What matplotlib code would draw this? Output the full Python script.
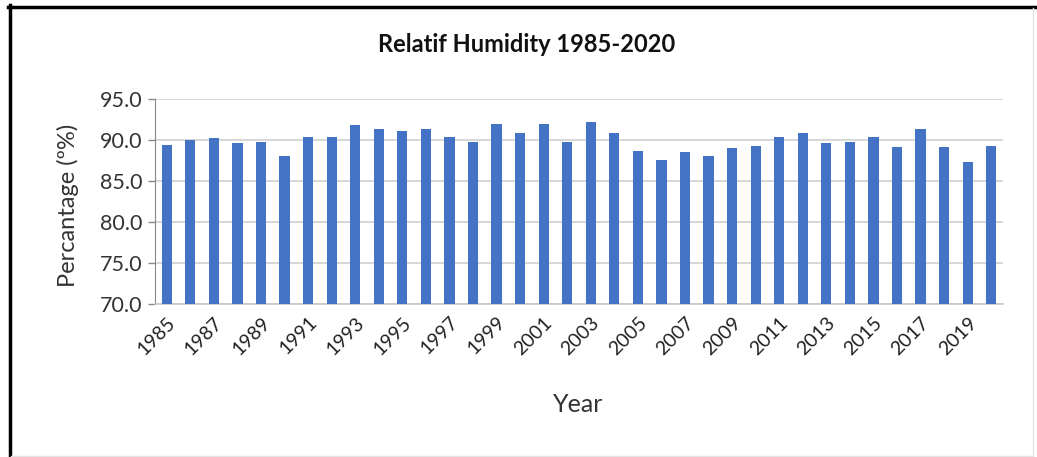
import matplotlib.pyplot as plt
from matplotlib.lines import Line2D
import numpy as np

plt.rcParams['font.family'] = ['Lato', 'DejaVu Sans']

years = list(range(1985, 2021))
humidity = [89.4, 90.0, 90.2, 89.6, 89.7, 88.1, 90.4, 90.4, 91.8, 91.3,
            91.1, 91.3, 90.4, 89.7, 92.0, 90.8, 92.0, 89.7, 92.2, 90.9,
            88.6, 87.6, 88.5, 88.0, 89.0, 89.3, 90.4, 90.8, 89.6, 89.7,
            90.4, 89.2, 91.3, 89.2, 87.3, 89.3]
yticks = [70.0, 75.0, 80.0, 85.0, 90.0, 95.0]

W, H = 1037, 457
fig = plt.figure(figsize=(W / 100, H / 100), dpi=100)
ax = fig.add_axes([155 / W, 1 - 304 / H, (1003 - 155) / W, (304 - 99) / H])

x = np.arange(len(years))
ax.bar(x, [v - 70 for v in humidity], bottom=70, width=0.43, color='#4472C4', zorder=3)

ax.set_xlim(-0.5, len(years) - 0.5)
ax.set_ylim(70, 95)
ax.set_yticks(yticks)
ax.set_yticklabels(['%.1f' % t for t in yticks], fontsize=15.5, color='#333333')
ax.set_xticks(x[::2])
ax.set_xticklabels([str(y) for y in years[::2]], rotation=45, ha='right',
                   rotation_mode='anchor', fontsize=14, color='#222222')
ax.tick_params(axis='x', length=0, pad=7)
ax.tick_params(axis='y', length=5, color='#888888', width=1, pad=4)

ax.grid(axis='y', color='#d0d0d0', linewidth=1.2, zorder=0)
for s in ['top', 'right']:
    ax.spines[s].set_visible(False)
ax.spines['left'].set_color('#888888')
ax.spines['bottom'].set_color('#c8c8c8')
ax.spines['bottom'].set_linewidth(1.2)

ax.set_ylabel('Percantage (º%)', fontsize=17, color='#333333')
ax.yaxis.set_label_coords((79 - 155) / 848, 0.48)
fig.text(578 / W, 1 - 404 / H, 'Year', fontsize=18, color='#333333',
         ha='center', va='center')
fig.text(527 / W, 1 - 45 / H, 'Relatif Humidity 1985-2020', fontsize=17,
         fontweight='bold', ha='center', va='center', color='#111111')

# frame around the chart
fig.add_artist(Line2D([9.5 / W, 9.5 / W], [0, 1 - 5 / H], color='black', linewidth=2.5))
fig.add_artist(Line2D([8 / W, 1], [1 - 6.5 / H, 1 - 6.5 / H], color='black', linewidth=2.5))
fig.add_artist(Line2D([1033 / W, 1033 / W], [1 / H, 1 - 8 / H], color='#e4e4e4', linewidth=1))
fig.add_artist(Line2D([11 / W, 1033 / W], [1.5 / H, 1.5 / H], color='#e4e4e4', linewidth=1))

fig.savefig('out.png', dpi=100)
